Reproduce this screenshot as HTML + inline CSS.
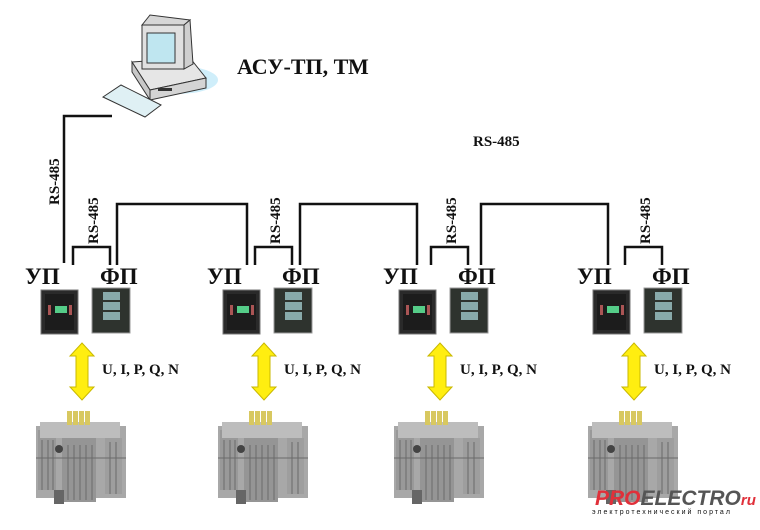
<!DOCTYPE html>
<html><head><meta charset="utf-8"><style>
html,body{margin:0;padding:0;background:#fff;}
svg{display:block;}
text{font-family:"Liberation Serif",serif;font-weight:bold;fill:#111;}
</style></head><body>
<svg width="760" height="530" viewBox="0 0 760 530" xmlns="http://www.w3.org/2000/svg">
<defs>
<g id="grp">
  <polyline points="73,265 73,247 110,247 110,265" fill="none" stroke="#111" stroke-width="2.5"/>
  <text transform="translate(98,244) rotate(-90)" font-size="15">RS-485</text>
  <text x="25" y="284" font-size="23">УП</text>
  <text x="100" y="284" font-size="23">ФП</text>
  <rect x="41" y="290" width="37" height="44" fill="#2a2a2a" stroke="#777"/>
  <rect x="45" y="294" width="29" height="36" fill="#1c1c1c"/>
  <rect x="55" y="306" width="12" height="7" fill="#5c8"/>
  <rect x="48" y="305" width="3" height="10" fill="#a55"/>
  <rect x="69" y="305" width="3" height="10" fill="#a55"/>
  <rect x="92" y="288" width="38" height="45" fill="#2e332e" stroke="#999"/>
  <rect x="103" y="292" width="17" height="8" fill="#8aa" />
  <rect x="103" y="302" width="17" height="8" fill="#8aa" />
  <rect x="103" y="312" width="17" height="8" fill="#8aa" />
  <polygon points="82,343 94,356 88,356 88,387 94,387 82,400 70,387 76,387 76,356 70,356" fill="#ffee10" stroke="#c9b800" stroke-width="1"/>
  <text x="102" y="374" font-size="15">U, I, P, Q, N</text>
  <g>
    <rect x="36" y="426" width="90" height="72" fill="#a8a8a8"/>
    <rect x="38" y="430" width="18" height="60" fill="#999"/>
    <rect x="62" y="438" width="34" height="64" fill="#959595"/>
    <rect x="105" y="438" width="17" height="56" fill="#9e9e9e"/>
    <rect x="40" y="422" width="80" height="16" fill="#bdbdbd"/>
    <g stroke="#6a6a6a" stroke-width="1">
      <line x1="42" y1="440" x2="42" y2="490"/><line x1="48" y1="440" x2="48" y2="490"/><line x1="53" y1="440" x2="53" y2="490"/>
      <line x1="68" y1="445" x2="68" y2="500"/><line x1="74" y1="445" x2="74" y2="500"/><line x1="80" y1="445" x2="80" y2="500"/><line x1="86" y1="445" x2="86" y2="500"/><line x1="92" y1="445" x2="92" y2="500"/>
      <line x1="110" y1="442" x2="110" y2="494"/><line x1="116" y1="442" x2="116" y2="494"/>
      <line x1="36" y1="458" x2="126" y2="458"/>
    </g>
    <rect x="67" y="411" width="5" height="14" fill="#d8c860"/>
    <rect x="73" y="411" width="5" height="14" fill="#d8c860"/>
    <rect x="79" y="411" width="5" height="14" fill="#d8c860"/>
    <rect x="85" y="411" width="5" height="14" fill="#d8c860"/>
    <circle cx="59" cy="449" r="4" fill="#444"/>
    <rect x="54" y="490" width="10" height="14" fill="#666"/>
  </g>
</g>
</defs>

<g>
  <ellipse cx="178" cy="80" rx="40" ry="14" fill="#cfeefa"/>
  <polygon points="132,62 190,58 206,78 150,90" fill="#e6e6e6" stroke="#333"/>
  <polygon points="150,90 206,78 206,88 150,100" fill="#d4d4d4" stroke="#333"/>
  <polygon points="132,62 150,90 150,100 132,72" fill="#c8c8c8" stroke="#333"/>
  <rect x="158" y="88" width="14" height="3" fill="#333"/>
  <rect x="142" y="25" width="42" height="44" fill="#e0e0e0" stroke="#333"/>
  <rect x="147" y="33" width="28" height="30" fill="#bfe6f0" stroke="#333"/>
  <polygon points="142,25 150,15 190,20 184,25" fill="#d6d6d6" stroke="#333"/>
  <polygon points="184,25 190,20 193,64 184,69" fill="#cfcfcf" stroke="#333"/>
  <polygon points="103,97 121,85 161,105 145,117" fill="#dff0f4" stroke="#333"/>
</g>
<text x="237" y="74" font-size="22">АСУ-ТП, ТМ</text>
<text x="473" y="146" font-size="15">RS-485</text>

<polyline points="112,116 64,116 64,263" fill="none" stroke="#111" stroke-width="2.5"/>
<text transform="translate(59,205) rotate(-90)" font-size="15">RS-485</text>

<polyline points="117,265 117,204 247,204 247,265" fill="none" stroke="#111" stroke-width="2.5"/>
<polyline points="300,265 300,204 417,204 417,265" fill="none" stroke="#111" stroke-width="2.5"/>
<polyline points="481,265 481,204 608,204 608,265" fill="none" stroke="#111" stroke-width="2.5"/>

<use href="#grp" x="0" y="0"/>
<use href="#grp" x="182" y="0"/>
<use href="#grp" x="358" y="0"/>
<use href="#grp" x="552" y="0"/>

<text x="595" y="505" font-style="italic" font-size="21" style="font-family:'Liberation Sans',sans-serif"><tspan fill="#e0303a">PRO</tspan><tspan fill="#555">ELECTRO</tspan><tspan fill="#e0303a" font-size="15">ru</tspan></text>
<text x="592" y="514" font-size="7" fill="#888" style="font-family:'Liberation Sans',sans-serif;font-weight:normal;letter-spacing:2px">электротехнический портал</text>
</svg>
</body></html>
